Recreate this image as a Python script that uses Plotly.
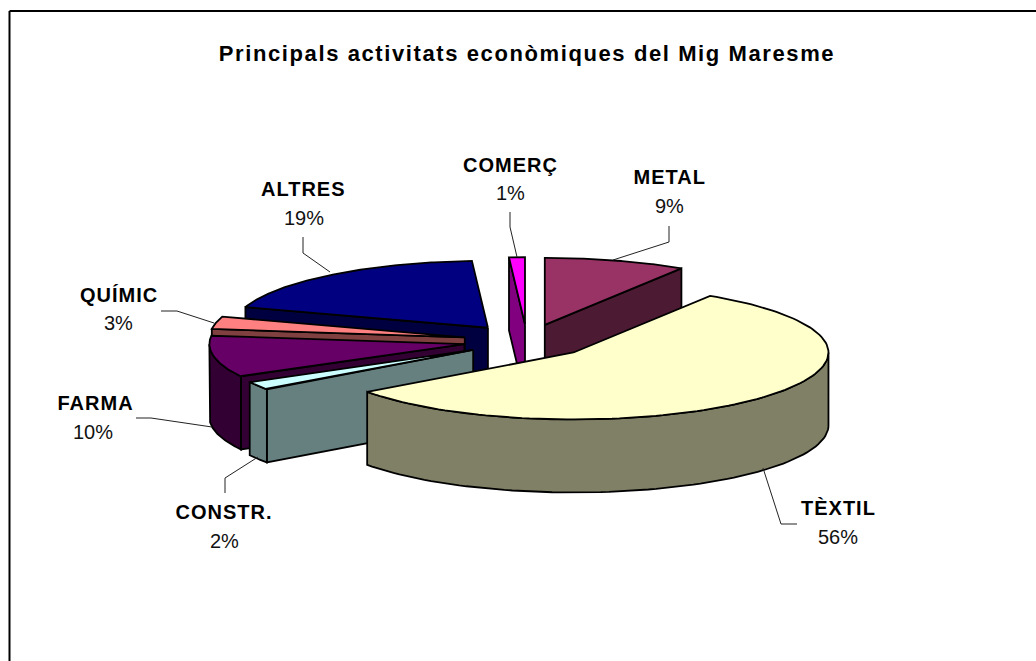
import numpy as np
import plotly.graph_objects as go

# Data, clockwise from the top
names = ["METAL", "TÈXTIL", "CONSTR.", "FARMA", "QUÍMIC", "ALTRES", "COMERÇ"]
values = [9, 56, 2, 10, 3, 19, 1]
title = "Principals activitats econòmiques del Mig Maresme"

top_colors = ["#993366", "#FFFFCC", "#CCFFFF", "#660066", "#FF8080", "#000080", "#FF00FF"]
wall_colors = ["#4D1A33", "#808066", "#668080", "#330033", "#804040", "#000040", "#800080"]

# Order in which slices are painted, back to front
paint_order = ["ALTRES", "COMERÇ", "METAL", "QUÍMIC", "FARMA", "CONSTR.", "TÈXTIL"]

# Projection of the tilted pie, in page pixels
CX, CY, RX, RY, DEPTH, EXPLODE = 527, 341, 255, 67, 73, 0.25

# Label placement and leader lines, in page pixels
name_xy = {"METAL": (669, 177), "TÈXTIL": (838, 508), "CONSTR.": (224, 512), "FARMA": (95, 403),
           "QUÍMIC": (119, 295), "ALTRES": (303, 189), "COMERÇ": (510, 165)}
pct_xy = {"METAL": (669, 206), "TÈXTIL": (838, 537), "CONSTR.": (224, 541), "FARMA": (93, 432),
          "QUÍMIC": (118, 323), "ALTRES": (304, 218), "COMERÇ": (510, 193)}
leaders = {"METAL": [(669, 226), (669, 242), (613, 260)],
           "TÈXTIL": [(797, 524), (781, 524), (763, 468)],
           "CONSTR.": [(225, 493), (225, 478), (258, 457)],
           "FARMA": [(136, 418), (151, 418), (212, 427)],
           "QUÍMIC": [(161, 311), (177, 311), (214, 323)],
           "ALTRES": [(303, 237), (303, 253), (330, 272)],
           "COMERÇ": [(510, 212), (510, 227), (517, 257)]}

fig = go.Figure()


def poly(xs, ys, color, name):
    fig.add_trace(go.Scatter(
        x=list(xs) + [xs[0]], y=list(ys) + [ys[0]], mode="lines", fill="toself", fillcolor=color,
        line=dict(color="black", width=1.8), hoverinfo="text", text=name, showlegend=False))


cum = np.cumsum([0] + values) / sum(values) * 360.0
for name in paint_order:
    i = names.index(name)
    a0, a1 = cum[i], cum[i + 1]
    mid = np.radians((a0 + a1) / 2)
    ax = CX + EXPLODE * RX * np.sin(mid)
    ay = CY - EXPLODE * RY * np.cos(mid)
    rim = lambda deg: (ax + RX * np.sin(np.radians(deg)), ay - RY * np.cos(np.radians(deg)))
    # cut faces turned towards the viewer
    for deg, visible in ((a0, np.sin(np.radians(a0)) < -1e-6), (a1, np.sin(np.radians(a1)) > 1e-6)):
        if visible:
            rx_, ry_ = rim(deg)
            poly([ax, rx_, rx_, ax], [ay, ry_, ry_ + DEPTH, ay + DEPTH], wall_colors[i], name)
    # outer wall: the front half of the rim only
    lo, hi = max(a0, 90), min(a1, 270)
    if hi > lo:
        t = np.linspace(lo, hi, 80)
        px, py = rim(t)
        poly(np.r_[px, px[::-1]], np.r_[py, py[::-1] + DEPTH], wall_colors[i], name)
    # top face
    t = np.linspace(a0, a1, 120)
    px, py = rim(t)
    poly(np.r_[ax, px], np.r_[ay, py], top_colors[i], name)

for name in names:
    pts = leaders[name]
    fig.add_trace(go.Scatter(x=[p[0] for p in pts], y=[p[1] for p in pts], mode="lines",
                             line=dict(color="#222222", width=1), hoverinfo="skip", showlegend=False))
    fig.add_annotation(x=name_xy[name][0], y=name_xy[name][1], text="<b>%s</b>" % name, showarrow=False,
                       font=dict(family="Liberation Sans", size=20, color="black"))
    fig.add_annotation(x=pct_xy[name][0], y=pct_xy[name][1], text="%d%%" % values[names.index(name)],
                       showarrow=False, font=dict(family="Liberation Sans", size=20, color="#111111"))

fig.add_annotation(x=527, y=53, text="<b>%s</b>" % title, showarrow=False,
                   font=dict(family="Liberation Sans", size=22, color="black"))

# Chart frame: only its top and left edges fall inside the picture
fig.add_shape(type="line", x0=9.5, x1=1036, y0=11, y1=11, line=dict(color="black", width=2))
fig.add_shape(type="line", x0=9.5, x1=9.5, y0=11, y1=661, line=dict(color="black", width=2))

fig.update_layout(width=1036, height=661, margin=dict(l=0, r=0, t=0, b=0), paper_bgcolor="white",
                  plot_bgcolor="white", showlegend=False,
                  xaxis=dict(range=[0, 1036], visible=False, fixedrange=True),
                  yaxis=dict(range=[661, 0], visible=False, fixedrange=True))

# The original's bold labels are tracked wider than the plain font
tracking = """
document.body.style.margin='0';document.body.style.overflow='hidden';
document.querySelectorAll('.annotation-text').forEach(function(el){
  var bold = el.querySelector('tspan') !== null || /font-weight: *bold/.test(el.innerHTML);
  if (el.textContent.indexOf('Principals') === 0) { el.style.letterSpacing = '1.6px'; }
  else if (bold) { el.style.letterSpacing = '1px'; }
});
"""
fig.write_html("out.html", config={"displayModeBar": False}, post_script=tracking)
